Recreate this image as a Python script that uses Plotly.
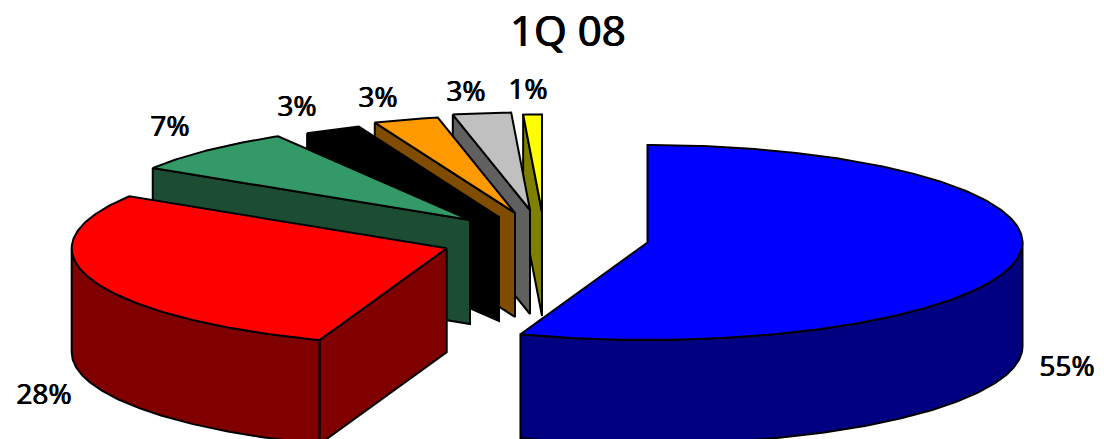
import numpy as np
import plotly.graph_objects as go

# --- data ---
categories = ["A", "B", "C", "D", "E", "F", "G"]
values = [55.5, 28.45, 7.5, 2.45, 2.8, 2.5, 0.8]
labels = ["55%", "28%", "7%", "3%", "3%", "3%", "1%"]
title_text = "1Q 08"

# --- styling / layout ---
top_colors = ["#0000FF", "#FF0000", "#339966", "#000000", "#FF9900", "#C0C0C0", "#FFFF00"]
side_colors = ["#000080", "#800000", "#1C4D33", "#000000", "#804D00", "#606060", "#808000"]
apex_x = [647.5, 446.7, 470, 499, 515, 530, 542]
apex_y = [242.5, 248.3, 220, 217, 213, 210, 212]
label_x = [1067, 44, 170, 297, 378, 466, 528]
label_y = [369, 397, 129, 109, 100, 94, 92]
RX, RY, DEPTH = 375, 97.5, 104
W, H = 1104, 439
FONT = "Noto Sans"
SEMIBOLD = "0.45px 0 0 #000, -0.45px 0 0 #000"


def rim(ax, ay, t0, t1, dy=0.0):
    n = max(2, int(abs(t1 - t0) * 1.5) + 2)
    t = np.radians(np.linspace(t0, t1, n))
    return ax + RX * np.sin(t), ay - RY * np.cos(t) + dy


def poly(xs, ys, color):
    return go.Scatter(
        x=list(xs) + [xs[0]], y=list(ys) + [ys[0]], mode="lines", fill="toself",
        fillcolor=color, line=dict(color="#000000", width=2),
        hoverinfo="skip", showlegend=False,
    )


fig = go.Figure()
total = sum(values)
edges = np.concatenate([[0], np.cumsum(values)]) / total * 360

for i in reversed(range(len(values))):
    t0, t1 = edges[i], edges[i + 1]
    ax, ay = apex_x[i], apex_y[i]
    # outer wall (only the part turned to the viewer)
    w0, w1 = max(t0, 90), min(t1, 270)
    if w1 > w0:
        x1, y1 = rim(ax, ay, w0, w1)
        x2, y2 = rim(ax, ay, w0, w1, DEPTH)
        fig.add_trace(poly(np.r_[x1, x2[::-1]], np.r_[y1, y2[::-1]], side_colors[i]))
    # cut face at the start angle
    if 180 < t0 < 360:
        tx, ty = rim(ax, ay, t0, t0)
        tx, ty = tx[0], ty[0]
        fig.add_trace(poly([tx, ax, ax, tx], [ty, ay, ay + DEPTH, ty + DEPTH], side_colors[i]))
    # top surface
    xa, ya = rim(ax, ay, t0, t1)
    fig.add_trace(poly(np.r_[ax, xa], np.r_[ay, ya], top_colors[i]))

fig.add_trace(go.Scatter(
    x=label_x, y=label_y, mode="text", text=labels, textposition="middle center",
    textfont=dict(family=FONT, size=28, color="#000000", shadow=SEMIBOLD),
    hoverinfo="skip", showlegend=False, cliponaxis=False,
))

fig.update_layout(
    width=W, height=H, autosize=False,
    margin=dict(l=0, r=0, t=0, b=0),
    paper_bgcolor="#FFFFFF", plot_bgcolor="#FFFFFF",
    xaxis=dict(range=[0, W], visible=False, fixedrange=True),
    yaxis=dict(range=[H, 0], visible=False, fixedrange=True),
    annotations=[dict(
        text=title_text, x=568, y=29, xref="x", yref="y", showarrow=False,
        xanchor="center", yanchor="middle",
        font=dict(family=FONT, size=42, color="#000000", shadow=SEMIBOLD),
    )],
)
fig.write_html(
    "out.html",
    config={"displayModeBar": False},
    post_script="document.body.style.margin='0';document.documentElement.style.overflow='hidden';",
)
